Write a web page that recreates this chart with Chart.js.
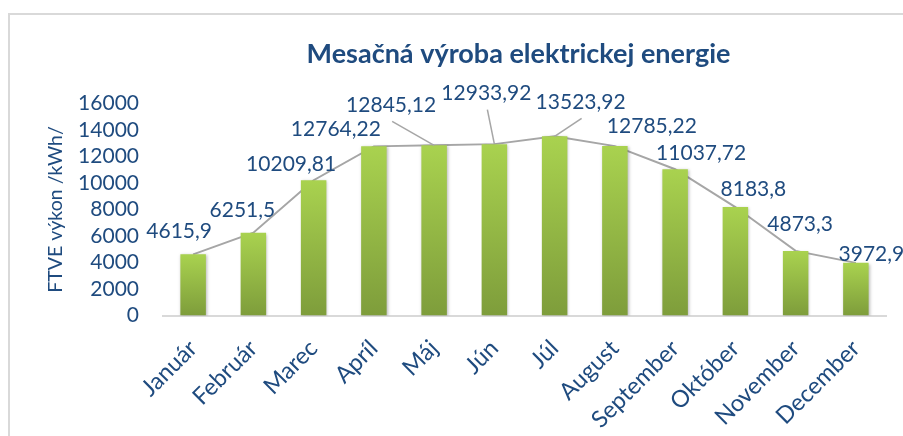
<!DOCTYPE html>
<html><head><meta charset="utf-8">
<script src="https://cdn.jsdelivr.net/npm/chart.js@4.4.1/dist/chart.umd.min.js"></script>
<style>
html,body{margin:0;padding:0;background:#fff;overflow:hidden;width:903px;height:436px}
#wrap{position:absolute;left:0;top:0;width:1037px;height:436px}
#frame{position:absolute;left:8px;top:13px;width:2000px;height:1000px;border-top:2px solid #D9D9D9;border-left:2px solid #D9D9D9;pointer-events:none}
</style></head><body>
<div id="frame"></div>
<div id="wrap"><canvas id="c"></canvas></div>
<script>
const categories = ['Január','Február','Marec','Apríl','Máj','Jún','Júl','August','September','Október','November','December'];
const production = [4615.9, 6251.5, 10209.81, 12764.22, 12845.12, 12933.92, 13523.92, 12785.22, 11037.72, 8183.8, 4873.3, 3972.9];
const yMin = 0, yMax = 16000, yStep = 2000;
const titleText = 'Mesačná výroba elektrickej energie';
const yTitleText = 'FTVE výkon /kWh/';

const TEXT = '#1F4B7F';
const FONT = 'Lato';

function fmt(v){ return String(v).replace('.', ','); }

function barGradient(c){
  const chart = c.chart;
  if (!chart.chartArea || c.type !== 'data') return '#95BD45';
  const ys = chart.scales.y;
  const top = ys.getPixelForValue(c.raw), bot = ys.getPixelForValue(0);
  const g = chart.ctx.createLinearGradient(0, top, 0, bot);
  g.addColorStop(0, '#A9D24F');
  g.addColorStop(1, '#7E9D3B');
  return g;
}

const shadowPlugin = {
  id: 'barShadow',
  beforeDatasetDraw(chart, args){
    if (args.index !== 0) return;
    const ctx = chart.ctx;
    ctx.save();
    ctx.shadowColor = 'rgba(0,0,0,0.28)';
    ctx.shadowBlur = 3;
    ctx.shadowOffsetX = 1;
    ctx.shadowOffsetY = 1;
  },
  afterDatasetDraw(chart, args){
    if (args.index !== 0) return;
    chart.ctx.restore();
  }
};

const labelPlugin = {
  id: 'valueLabels',
  afterDatasetsDraw(chart, args, opts){
    const meta = chart.getDatasetMeta(0);
    const ctx = chart.ctx;
    ctx.save();
    ctx.font = opts.size + 'px ' + FONT;
    ctx.fillStyle = TEXT;
    ctx.textAlign = 'center';
    ctx.textBaseline = 'middle';
    ctx.strokeStyle = '#A6A6A6';
    ctx.lineWidth = 1.5;
    meta.data.forEach((bar, i) => {
      const off = opts.offsets[i];
      const lx = bar.x + off[0], ly = bar.y + off[1];
      if (opts.leaders.indexOf(i) >= 0) {
        ctx.beginPath();
        ctx.moveTo(lx + 1, ly + 16);
        ctx.lineTo(bar.x, bar.y);
        ctx.stroke();
      }
      ctx.fillText(fmt(chart.data.datasets[0].data[i]), lx, ly);
    });
    ctx.restore();
  }
};

new Chart(document.getElementById('c'), {
  type: 'bar',
  data: {
    labels: categories,
    datasets: [
      { type: 'bar', data: production, order: 0, backgroundColor: barGradient, borderWidth: 0,
        barPercentage: 0.423, categoryPercentage: 1 },
      { type: 'line', data: production, order: 1, borderColor: '#A6A6A6', borderWidth: 2,
        pointRadius: 0, tension: 0, fill: false }
    ]
  },
  options: {
    responsive: true, maintainAspectRatio: false, animation: false,
    layout: { padding: 0 },
    plugins: {
      legend: { display: false },
      tooltip: { enabled: false },
      title: { display: true, text: titleText, color: TEXT,
        font: { family: FONT, size: 27, weight: 'bold' }, padding: { top: 38.5, bottom: 32.6 } },
      valueLabels: {
        size: 21,
        offsets: [[-14,-23],[-11,-22],[-22.5,-16],[-38,-17],[-43,-40],[-8,-50.6],[26,-34],[37,-20],[26,-16],[18,-18],[4.5,-27],[15.5,-9]],
        leaders: [4,5,6]
      }
    },
    scales: {
      x: {
        grid: { display: false, drawTicks: false },
        border: { display: true, color: '#D9D9D9', width: 2 },
        ticks: { color: TEXT, font: { family: FONT, size: 23.5 }, minRotation: 45, maxRotation: 45, padding: 19, autoSkip: false },
        afterFit: s => { s.height = 120.5; }
      },
      y: {
        min: yMin, max: yMax,
        grid: { display: false, drawTicks: false },
        border: { display: false },
        ticks: { stepSize: yStep, autoSkip: false, color: TEXT, font: { family: FONT, size: 21 }, padding: 24,
          callback: v => String(v) },
        title: { display: true, text: yTitleText, color: TEXT, font: { family: FONT, size: 19.5 }, padding: { top: 44, bottom: 0 } },
        afterFit: s => { s.width = 163; }
      },
      yRight: {
        type: 'linear', position: 'right', display: true,
        grid: { display: false, drawTicks: false },
        border: { display: false },
        ticks: { display: false },
        afterFit: s => { s.width = 151; }
      }
    }
  },
  plugins: [shadowPlugin, labelPlugin]
});
</script>
</body></html>
